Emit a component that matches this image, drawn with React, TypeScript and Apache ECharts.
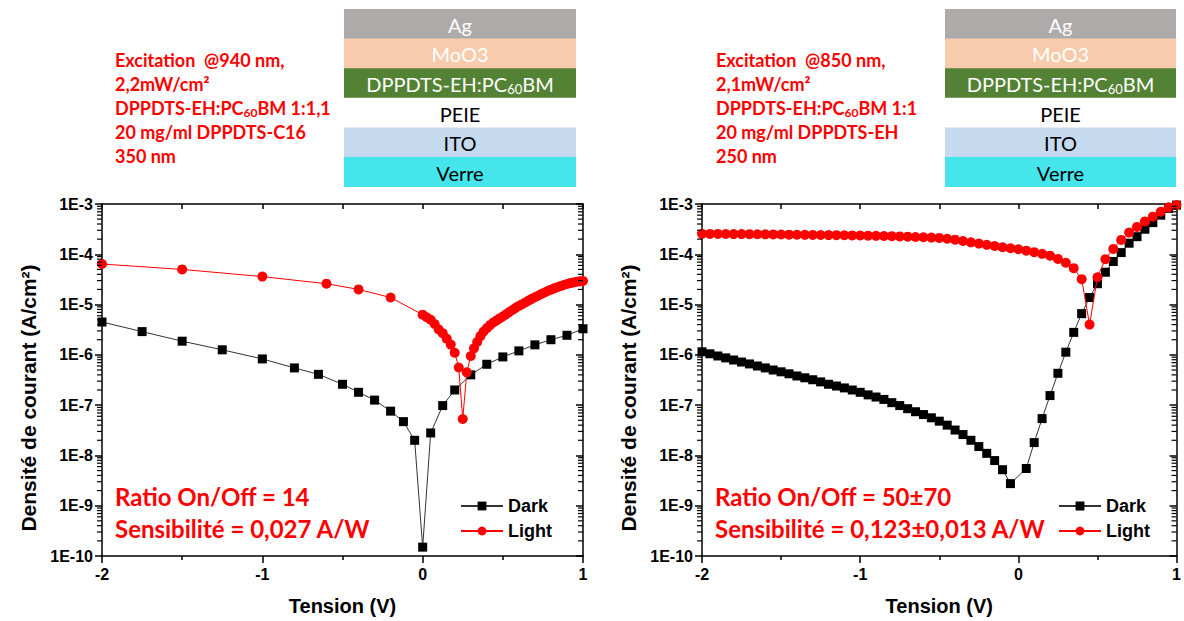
import React, { useEffect, useRef } from "react";
import * as echarts from "echarts";

// ---------- Data (V in volts, J in A/cm²) ----------
const leftDarkV = [-2, -1.75, -1.5, -1.25, -1, -0.8, -0.65, -0.5, -0.4, -0.3, -0.2, -0.12, -0.05, 0, 0.05, 0.125, 0.2, 0.3, 0.4, 0.5, 0.6, 0.7, 0.8, 0.9, 1.0];
const leftDarkJ = [4.5e-6, 2.9e-6, 1.87e-6, 1.26e-6, 8.3e-7, 5.5e-7, 4.1e-7, 2.6e-7, 1.8e-7, 1.26e-7, 7.6e-8, 4.7e-8, 2.0e-8, 1.5e-10, 2.8e-8, 9.8e-8, 2.0e-7, 4.0e-7, 6.5e-7, 9.1e-7, 1.2e-6, 1.58e-6, 2.0e-6, 2.45e-6, 3.3e-6];

const leftLightV = [-2, -1.5, -1, -0.6, -0.4, -0.2, 0, 0.025, 0.05, 0.075, 0.1, 0.125, 0.15, 0.175, 0.2, 0.225, 0.25, 0.275,
  0.3, 0.32, 0.34, 0.36, 0.38, 0.4, 0.42, 0.44, 0.46, 0.48, 0.5, 0.52, 0.54, 0.56, 0.58, 0.6, 0.62, 0.64, 0.66, 0.68,
  0.7, 0.72, 0.74, 0.76, 0.78, 0.8, 0.82, 0.84, 0.86, 0.88, 0.9, 0.92, 0.94, 0.96, 0.98, 1.0];
const leftLightJ = [6.4e-5, 5.0e-5, 3.6e-5, 2.6e-5, 2.0e-5, 1.38e-5, 6.3e-6, 5.6e-6, 5.0e-6, 4.1e-6, 3.2e-6, 2.7e-6, 2.1e-6, 1.6e-6, 1.1e-6, 5.6e-7, 5.3e-8, 4.5e-7,
  9.5e-7, 1.35e-6, 1.8e-6, 2.35e-6, 2.9e-6, 3.4e-6, 3.9e-6, 4.4e-6, 4.8e-6, 5.3e-6, 5.8e-6, 6.4e-6, 7.1e-6, 7.8e-6, 8.6e-6, 9.4e-6, 1.02e-5, 1.1e-5, 1.2e-5, 1.3e-5,
  1.4e-5, 1.5e-5, 1.62e-5, 1.74e-5, 1.86e-5, 1.98e-5, 2.1e-5, 2.22e-5, 2.33e-5, 2.45e-5, 2.56e-5, 2.67e-5, 2.76e-5, 2.84e-5, 2.9e-5, 2.95e-5];

const rightDarkV = [-2, -1.95, -1.9, -1.85, -1.8, -1.75, -1.7, -1.65, -1.6, -1.55, -1.5, -1.45, -1.4, -1.35, -1.3, -1.25, -1.2, -1.15, -1.1, -1.05,
  -1, -0.95, -0.9, -0.85, -0.8, -0.75, -0.7, -0.65, -0.6, -0.55, -0.5, -0.45, -0.4, -0.35, -0.3, -0.25, -0.2, -0.15, -0.1, -0.05,
  0.05, 0.1, 0.15, 0.2, 0.25, 0.3, 0.35, 0.4, 0.45, 0.5, 0.55, 0.6, 0.65, 0.7, 0.75, 0.8, 0.85, 0.9, 0.95, 1.0];
const rightDarkJ = [1.15e-6, 1.05e-6, 9.5e-7, 8.7e-7, 7.9e-7, 7.2e-7, 6.6e-7, 6.0e-7, 5.5e-7, 5.0e-7, 4.6e-7, 4.2e-7, 3.8e-7, 3.5e-7, 3.2e-7, 2.9e-7, 2.6e-7, 2.4e-7, 2.2e-7, 2.0e-7,
  1.8e-7, 1.6e-7, 1.45e-7, 1.3e-7, 1.12e-7, 9.8e-8, 8.5e-8, 7.4e-8, 6.5e-8, 5.6e-8, 4.8e-8, 4.0e-8, 3.2e-8, 2.6e-8, 2.0e-8, 1.5e-8, 1.1e-8, 7.9e-9, 5.2e-9, 2.75e-9,
  5.5e-9, 1.8e-8, 5.4e-8, 1.55e-7, 4.3e-7, 1.13e-6, 2.8e-6, 6.6e-6, 1.38e-5, 2.6e-5, 4.4e-5, 7.2e-5, 1.08e-4, 1.66e-4, 2.24e-4, 3.15e-4, 4.26e-4, 6.0e-4, 8.2e-4, 9.5e-4];

const rightLightV = [-2, -1.95, -1.9, -1.85, -1.8, -1.75, -1.7, -1.65, -1.6, -1.55, -1.5, -1.45, -1.4, -1.35, -1.3, -1.25, -1.2, -1.15, -1.1, -1.05,
  -1, -0.95, -0.9, -0.85, -0.8, -0.75, -0.7, -0.65, -0.6, -0.55, -0.5, -0.45, -0.4, -0.35, -0.3, -0.25, -0.2, -0.15, -0.1, -0.05,
  0, 0.05, 0.1, 0.15, 0.2, 0.25, 0.3, 0.35, 0.4, 0.45, 0.5, 0.55, 0.6, 0.65, 0.7, 0.75, 0.8, 0.85, 0.9, 0.95, 1.0];
const rightLightJ = [2.55e-4, 2.54e-4, 2.54e-4, 2.53e-4, 2.52e-4, 2.52e-4, 2.51e-4, 2.5e-4, 2.49e-4, 2.48e-4, 2.47e-4, 2.46e-4, 2.45e-4, 2.44e-4, 2.43e-4, 2.42e-4, 2.41e-4, 2.4e-4, 2.39e-4, 2.37e-4,
  2.36e-4, 2.35e-4, 2.33e-4, 2.31e-4, 2.29e-4, 2.27e-4, 2.24e-4, 2.21e-4, 2.18e-4, 2.15e-4, 2.12e-4, 2.04e-4, 1.95e-4, 1.84e-4, 1.73e-4, 1.63e-4, 1.54e-4, 1.46e-4, 1.38e-4, 1.32e-4,
  1.26e-4, 1.18e-4, 1.1e-4, 1.02e-4, 9.4e-5, 8.1e-5, 6.8e-5, 5.3e-5, 3.2e-5, 4.0e-6, 3.5e-5, 8.0e-5, 1.28e-4, 1.93e-4, 2.7e-4, 3.5e-4, 4.5e-4, 5.6e-4, 7.0e-4, 8.6e-4, 9.6e-4];

const seriesNames = ["Dark", "Light"];
const xTickLabels = ["-2", "-1", "0", "1"];
const yDecades = [-10, -9, -8, -7, -6, -5, -4, -3];
const minorMultipliers = [2, 3, 4, 5, 6, 7, 8, 9];
const xTitle = "Tension (V)";
const yTitle = "Densité de courant (A/cm²)";

const leftNotes = ["Excitation  @940 nm,", "2,2mW/cm²", "DPPDTS-EH:PC{s|60}BM 1:1,1", "20 mg/ml DPPDTS-C16", "350 nm"];
const rightNotes = ["Excitation  @850 nm,", "2,1mW/cm²", "DPPDTS-EH:PC{s|60}BM 1:1", "20 mg/ml DPPDTS-EH", "250 nm"];
const leftResults = ["Ratio On/Off = 14", "Sensibilité = 0,027 A/W"];
const rightResults = ["Ratio On/Off = 50±70", "Sensibilité = 0,123±0,013 A/W"];
const layers = ["Ag", "MoO3", "DPPDTS-EH:PC{w|60}BM", "PEIE", "ITO", "Verre"];
const layerFill = ["#aeaaaa", "#f8cbad", "#548235", "#ffffff", "#c5d9ef", "#45e5ec"];
const layerText = ["#ffffff", "#ffffff", "#ffffff", "#000000", "#000000", "#000000"];

const AXIS_FONT = "'Liberation Sans', Arial, sans-serif";
const NOTE_FONT = "Lato, 'Open Sans', sans-serif";

function toPts(v: number[], j: number[]) {
  return v.map((x, i) => [x, Math.log10(j[i])]);
}

export default function App() {
  const ref = useRef<HTMLDivElement>(null);
  useEffect(() => {
    if (!ref.current) return;
    const chart = echarts.init(ref.current, undefined, { renderer: "svg" });

    const grids = [
      { left: 102, top: 204, width: 481, height: 353 },
      { left: 702, top: 204, width: 480, height: 353 },
    ];

    const axisLine = { onZero: false, lineStyle: { color: "#000", width: 1.5 } };
    const xAxis: any[] = [];
    const yAxis: any[] = [];
    grids.forEach((_, gi) => {
      xAxis.push({
        type: "value", gridIndex: gi, min: -2, max: 1, interval: 1, position: "bottom",
        axisLine,
        axisTick: { inside: false, length: 7, lineStyle: { color: "#000", width: 1.5 } },
        minorTick: { show: true, splitNumber: 2, length: 4, lineStyle: { color: "#000", width: 1.5 } },
        splitLine: { show: false },
        axisLabel: { color: "#000", fontFamily: AXIS_FONT, fontWeight: "bold", fontSize: 16, margin: 10, formatter: (v: number) => xTickLabels[Math.round(v) + 2] },
        name: xTitle, nameLocation: "middle", nameGap: 40,
        nameTextStyle: { color: "#000", fontFamily: AXIS_FONT, fontWeight: "bold", fontSize: 20 },
      });
      xAxis.push({
        type: "value", gridIndex: gi, min: -2, max: 1, interval: 0.5, position: "top",
        axisLine,
        axisTick: { inside: true, length: 5, lineStyle: { color: "#000", width: 1.5 } },
        axisLabel: { show: false }, splitLine: { show: false },
      });
      yAxis.push({
        type: "value", gridIndex: gi, min: -10, max: -3, interval: 1, position: "left",
        axisLine,
        axisTick: { inside: false, length: 7, lineStyle: { color: "#000", width: 1.5 } },
        splitLine: { show: false },
        axisLabel: { color: "#000", fontFamily: AXIS_FONT, fontWeight: "bold", fontSize: 16, margin: 9, formatter: (v: number) => "1E" + yDecades[Math.round(v) + 10] },
      });
      yAxis.push({
        type: "value", gridIndex: gi, min: -10, max: -3, interval: 1, position: "right",
        axisLine,
        axisTick: { inside: true, length: 7, lineStyle: { color: "#000", width: 1.5 } },
        axisLabel: { show: false }, splitLine: { show: false },
      });
    });

    const darkStyle = (gi: number, data: number[][]) => ({
      name: seriesNames[0], type: "line", xAxisIndex: gi * 2, yAxisIndex: gi * 2, data,
      symbol: "rect", symbolSize: 9, itemStyle: { color: "#000" }, lineStyle: { color: "#333", width: 1 }, z: 3,
    });
    const lightStyle = (gi: number, data: number[][]) => ({
      name: seriesNames[1], type: "line", xAxisIndex: gi * 2, yAxisIndex: gi * 2, data,
      symbol: "circle", symbolSize: 10, itemStyle: { color: "#ff0000" }, lineStyle: { color: "#ff0000", width: 1 }, z: 4,
    });

    const graphic: any[] = [];
    const addNotes = (x: number, lines: string[]) => {
      lines.forEach((t, i) => {
        graphic.push({
          type: "text", left: x, top: 51 + i * 24,
          style: {
            text: t, fill: "#ff0000", font: `bold 18px ${NOTE_FONT}`,
            rich: { s: { fontSize: 12, fontWeight: "bold", fill: "#ff0000", fontFamily: NOTE_FONT, padding: [9, 0, 0, 0] } },
          },
        });
      });
    };
    addNotes(115, leftNotes);
    addNotes(716, rightNotes);

    const addResults = (x: number, lines: string[]) => {
      lines.forEach((t, i) => {
        graphic.push({
          type: "text", left: x, top: 484 + i * 32,
          style: { text: t, fill: "#ff0000", font: `bold 24px ${NOTE_FONT}` },
        });
      });
    };
    addResults(115, leftResults);
    addResults(715, rightResults);

    const addYTitle = (x: number) => {
      graphic.push({
        type: "text", x, y: 398, rotation: Math.PI / 2,
        style: { text: yTitle, fill: "#000", font: `bold 21px ${AXIS_FONT}`, align: "center", verticalAlign: "middle" },
      });
    };
    addYTitle(28);
    addYTitle(628);

    const addStack = (x: number, w: number) => {
      const top = 9;
      const h = 29.6;
      layers.forEach((t, i) => {
        graphic.push({
          type: "rect", shape: { x, y: top + i * h, width: w, height: h + 0.5 },
          style: { fill: layerFill[i] },
        });
        graphic.push({
          type: "text", x: x + w / 2, y: top + i * h + h / 2 + 1,
          style: {
            text: t, fill: layerText[i], font: `20px ${NOTE_FONT}`, align: "center", verticalAlign: "middle",
            rich: { w: { fontSize: 13, fill: layerText[i], fontFamily: NOTE_FONT, padding: [9, 0, 0, 0] } },
          },
        });
      });
    };
    addStack(344, 232);
    addStack(945, 231);

    const legendCommon = {
      orient: "vertical", itemWidth: 42, itemHeight: 11, itemGap: 7, data: seriesNames,
      textStyle: { color: "#000", fontFamily: AXIS_FONT, fontWeight: "bold", fontSize: 18, padding: [0, 0, 0, 0] },
      selectedMode: false,
    };

    chart.setOption({
      animation: false,
      backgroundColor: "#fff",
      grid: grids.map((g) => ({ ...g, containLabel: false })),
      xAxis, yAxis,
      legend: [
        { ...legendCommon, left: 455, top: 492 },
        { ...legendCommon, left: 1053, top: 492 },
      ],
      series: [
        darkStyle(0, toPts(leftDarkV, leftDarkJ)),
        lightStyle(0, toPts(leftLightV, leftLightJ)),
        darkStyle(1, toPts(rightDarkV, rightDarkJ)),
        lightStyle(1, toPts(rightLightV, rightLightJ)),
      ],
      graphic,
    });

    // Minor (log) ticks placed through the chart's own axis scales
    const ticks: any[] = [];
    grids.forEach((_, gi) => {
      const finder = { xAxisIndex: gi * 2, yAxisIndex: gi * 2 };
      yDecades.slice(0, -1).forEach((n) => {
        minorMultipliers.forEach((k) => {
          const v = n + Math.log10(k);
          const l = chart.convertToPixel(finder as any, [-2, v]) as number[];
          const r = chart.convertToPixel(finder as any, [1, v]) as number[];
          if (!l || !r) return;
          ticks.push({ type: "line", silent: true, z: 10, shape: { x1: l[0] - 5, y1: l[1], x2: l[0], y2: l[1] }, style: { stroke: "#000", lineWidth: 1.2 } });
          ticks.push({ type: "line", silent: true, z: 10, shape: { x1: r[0] - 5, y1: r[1], x2: r[0], y2: r[1] }, style: { stroke: "#000", lineWidth: 1.2 } });
        });
      });
    });
    chart.setOption({ graphic: graphic.concat(ticks) });

    return () => chart.dispose();
  }, []);
  return <div ref={ref} style={{ position: "absolute", left: 0, top: 0, width: 1184, height: 621 }} />;
}
